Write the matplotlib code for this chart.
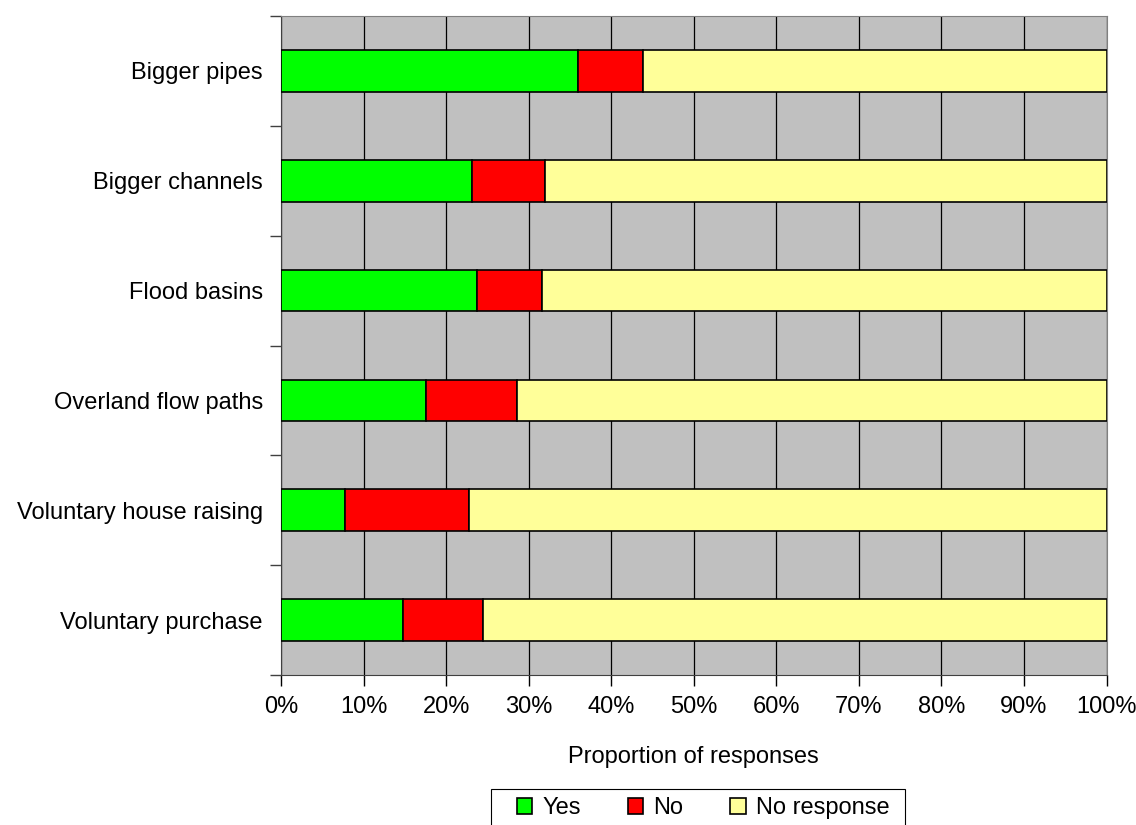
import numpy as np
import matplotlib.pyplot as plt
from matplotlib.patches import Rectangle
from matplotlib.ticker import MultipleLocator, PercentFormatter

plt.rcParams['font.family'] = ['Liberation Sans', 'DejaVu Sans']

# data (percent of responses)
categories = ['Bigger pipes', 'Bigger channels', 'Flood basins',
              'Overland flow paths', 'Voluntary house raising', 'Voluntary purchase']
yes = [36.0, 23.1, 23.7, 17.6, 7.8, 14.8]
no = [7.9, 8.9, 7.9, 11.0, 15.0, 9.7]
no_response = [100 - a - b for a, b in zip(yes, no)]

series = [('Yes', yes, '#00ff00'), ('No', no, '#ff0000'), ('No response', no_response, '#ffff99')]

fs = 17
W, H = 1136, 825

fig = plt.figure(figsize=(W / 100, H / 100), dpi=100)
ax = fig.add_axes([281 / W, 1 - 675 / H, (1106.5 - 281) / W, (675 - 16) / H])
ax.set_facecolor('#c0c0c0')

y = np.arange(len(categories))
left = np.zeros(len(categories))
for label, vals, col in series:
    ax.barh(y, vals, left=left, height=0.38, color=col, edgecolor='black',
            linewidth=1.2, label=label, zorder=3)
    left += np.array(vals)

ax.set_xlim(0, 100)
ax.set_ylim(len(categories) - 0.5, -0.5)
ax.xaxis.set_major_locator(MultipleLocator(10))
ax.xaxis.set_major_formatter(PercentFormatter(decimals=0))
ax.grid(axis='x', color='black', linewidth=0.9, zorder=1)
ax.set_axisbelow(True)

ax.set_yticks(y)
ax.set_yticklabels(categories)
ax.set_yticks(np.arange(-0.5, len(categories)), minor=True)
ax.tick_params(axis='y', which='major', length=0, pad=13, labelsize=fs)
ax.tick_params(axis='y', which='minor', length=8, width=1, color='#404040')
ax.tick_params(axis='x', which='major', length=8, width=1, labelsize=fs, pad=7)

for side in ['top', 'right']:
    ax.spines[side].set_color('#808080')
for side in ['left', 'bottom']:
    ax.spines[side].set_color('#404040')

ax.set_xlabel('Proportion of responses', fontsize=fs, labelpad=20)

# legend box runs off the bottom edge in the original
fig.patches.append(Rectangle((491 / W, 1 - 835 / H), (905 - 491) / W, (835 - 789) / H,
                             transform=fig.transFigure, facecolor='white',
                             edgecolor='black', linewidth=0.8, zorder=5))
leg = fig.legend(loc='upper left', bbox_to_anchor=(517 / W, 1 - 797 / H),
                 ncol=3, fontsize=fs, frameon=False,
                 handlelength=0.65, handleheight=0.65,
                 handletextpad=0.42, columnspacing=2.0, borderpad=0,
                 borderaxespad=0)
leg.set_zorder(6)

fig.savefig('out.png', dpi=100)
